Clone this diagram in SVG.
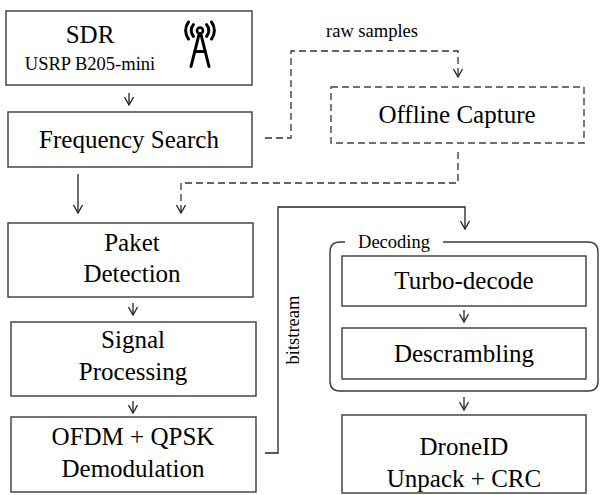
<svg xmlns="http://www.w3.org/2000/svg" width="606" height="495" viewBox="0 0 606 495" font-family="'Liberation Serif', 'Times New Roman', serif">
<defs>
<style>
.box{fill:#fff;stroke:#3a3a3a;stroke-width:1.4}
.dbox{fill:#fff;stroke:#444;stroke-width:1.4;stroke-dasharray:7 4}
text{font-family:'Liberation Serif','Times New Roman',serif;fill:#000;text-anchor:middle}
.t{font-size:25px}
.s{font-size:18.5px}
.c{fill:none;stroke:#222;stroke-width:1.3}
.cd{fill:none;stroke:#333;stroke-width:1.3;stroke-dasharray:7 4}
.ic{fill:none;stroke:#000;stroke-width:3;stroke-linecap:round}
</style>
<marker id="ah" viewBox="0 0 10 10" refX="9" refY="5" markerWidth="10" markerHeight="10" markerUnits="userSpaceOnUse" orient="auto">
<path d="M1,0.5 L9,5 L1,9.5" fill="none" stroke="#222" stroke-width="1.3"/>
</marker>
</defs>
<rect width="606" height="495" fill="#fff"/>

<g id="connectors">
<line class="c" x1="129" y1="93" x2="129" y2="105" marker-end="url(#ah)"/>
<line class="c" x1="78" y1="174" x2="78" y2="213" marker-end="url(#ah)"/>
<line class="c" x1="133" y1="303" x2="133" y2="315" marker-end="url(#ah)"/>
<line class="c" x1="133" y1="401" x2="133" y2="413" marker-end="url(#ah)"/>
<polyline class="c" points="265,453 278,453 278,207 465,207 465,229" marker-end="url(#ah)"/>
<line class="c" x1="464" y1="310" x2="464" y2="322" marker-end="url(#ah)"/>
<line class="c" x1="464" y1="397" x2="464" y2="410" marker-end="url(#ah)"/>
<polyline class="cd" points="265,138 291,138 291,51 458,51 458,77" marker-end="url(#ah)"/>
<polyline class="cd" points="458,152 458,183 181,183 181,213" marker-end="url(#ah)"/>
<text class="s" x="372" y="37">raw samples</text>
<text class="s" transform="translate(299,330) rotate(-90)">bitstream</text>
</g>

<g id="sdr">
<rect class="box" x="6" y="11" width="246" height="74"/>
<text class="t" x="90" y="43">SDR</text>
<text class="s" x="90" y="70">USRP B205-mini</text>
<g id="antenna-icon">
<circle cx="200" cy="30.5" r="3" fill="none" stroke="#000" stroke-width="2.6"/>
<path class="ic" d="M193.5,24.5 A9,9 0 0,0 193.5,36.5 M206.5,24.5 A9,9 0 0,1 206.5,36.5"/>
<path class="ic" d="M188.5,22 A14,14 0 0,0 188.5,39 M211.5,22 A14,14 0 0,1 211.5,39"/>
<path class="ic" d="M199,34.5 L191,66.5 M201,34.5 L209,66.5 M195,51.5 L205,51.5"/>
</g>
</g>

<g id="frequency-search">
<rect class="box" x="8" y="112" width="244" height="55"/>
<text class="t" x="129" y="148">Frequency Search</text>
</g>

<g id="offline-capture">
<rect class="dbox" x="331" y="87" width="253" height="56"/>
<text class="t" x="457" y="123">Offline Capture</text>
</g>

<g id="paket-detection">
<rect class="box" x="8" y="223" width="245" height="74"/>
<text class="t" x="132" y="251">Paket</text>
<text class="t" x="132" y="282">Detection</text>
</g>

<g id="signal-processing">
<rect class="box" x="11" y="322" width="245" height="74"/>
<text class="t" x="133" y="348">Signal</text>
<text class="t" x="133" y="380">Processing</text>
</g>

<g id="ofdm-demod">
<rect class="box" x="11" y="417" width="245" height="75"/>
<text class="t" x="133" y="445">OFDM + QPSK</text>
<text class="t" x="133" y="477">Demodulation</text>
</g>

<g id="decoding">
<path class="box" d="M345,242 L340,242 Q330,242 330,252 L330,381 Q330,391 340,391 L588,391 Q598,391 598,381 L598,252 Q598,242 588,242 L443,242" style="fill:none"/>
<text class="s" x="394" y="248">Decoding</text>
</g>

<g id="turbo-decode">
<rect class="box" x="342" y="256" width="244" height="50"/>
<text class="t" x="464" y="289">Turbo-decode</text>
</g>

<g id="descrambling">
<rect class="box" x="342" y="328" width="244" height="51"/>
<text class="t" x="464" y="362">Descrambling</text>
</g>

<g id="droneid">
<rect class="box" x="342" y="415" width="244" height="78"/>
<text class="t" x="464" y="455">DroneID</text>
<text class="t" x="464" y="487">Unpack + CRC</text>
</g>
</svg>
